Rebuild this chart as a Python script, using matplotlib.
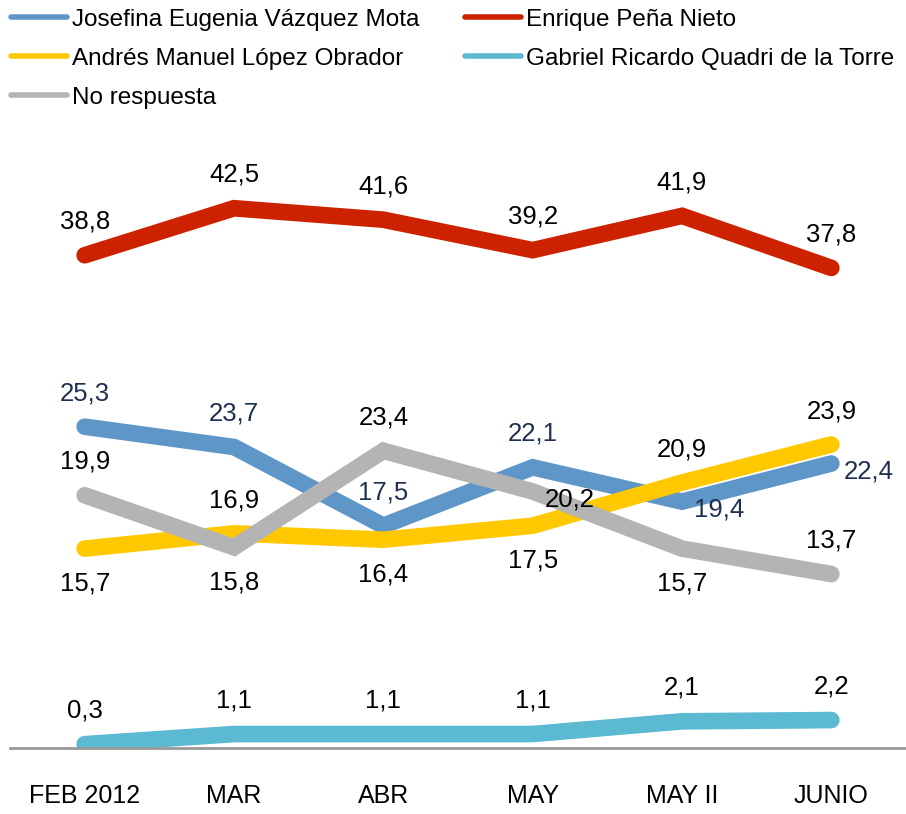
import matplotlib
matplotlib.use("Agg")
import matplotlib.pyplot as plt
from matplotlib.lines import Line2D

plt.rcParams['font.family'] = ['Liberation Sans', 'DejaVu Sans']

months = ['FEB 2012', 'MAR', 'ABR', 'MAY', 'MAY II', 'JUNIO']

josefina = [25.3, 23.7, 17.5, 22.1, 19.4, 22.4]
enrique = [38.8, 42.5, 41.6, 39.2, 41.9, 37.8]
andres = [15.7, 16.9, 16.4, 17.5, 20.9, 23.9]
gabriel = [0.3, 1.1, 1.1, 1.1, 2.1, 2.2]
no_resp = [19.9, 15.8, 23.4, 20.2, 15.7, 13.7]

names = ['Josefina Eugenia Vázquez Mota', 'Enrique Peña Nieto',
         'Andrés Manuel López Obrador', 'Gabriel Ricardo Quadri de la Torre',
         'No respuesta']

# where each data label sits: a = above, b = below, r = right
pos_josefina = ['a', 'a', 'a', 'a', 'r', 'r']
pos_enrique = ['a'] * 6
pos_andres = ['b', 'a', 'b', 'b', 'a', 'a']
pos_gabriel = ['a'] * 6
pos_no_resp = ['a', 'b', 'a', 'r', 'b', 'a']

series = [
    (josefina, '#5F96C8', '#1F3050', pos_josefina),
    (andres, '#FFC800', 'black', pos_andres),
    (no_resp, '#B4B4B4', 'black', pos_no_resp),
    (gabriel, '#5BB9D2', 'black', pos_gabriel),
    (enrique, '#CC2200', 'black', pos_enrique),
]

fig = plt.figure(figsize=(9.06, 8.14), dpi=100)
ax = fig.add_axes([10 / 906, 66 / 814, 896 / 906, 635 / 814])

x = list(range(len(months)))
offsets = {'a': (0, 24), 'b': (0, -25), 'r': (9, -6)}

for vals, col, tcol, pos in series:
    ax.plot(x, vals, color=col, lw=12, solid_capstyle='round',
            solid_joinstyle='miter', zorder=2)
    for xi, v, p in zip(x, vals, pos):
        dx, dy = offsets[p]
        ha = 'left' if p == 'r' else 'center'
        ax.annotate(f'{v:.1f}'.replace('.', ','), (xi, v), xytext=(dx, dy),
                    textcoords='offset points', ha=ha, va='center',
                    fontsize=18.5, color=tcol, annotation_clip=False)

ax.set_xlim(-0.5, 5.5)
ax.set_ylim(0, 50)
ax.set_xticks(x)
ax.set_xticklabels(months, fontsize=18)
ax.tick_params(axis='x', length=0, pad=26)
ax.set_yticks([])
for s in ['top', 'right', 'left']:
    ax.spines[s].set_visible(False)
ax.spines['bottom'].set_color('#999999')
ax.spines['bottom'].set_linewidth(2)
ax.spines['bottom'].set_zorder(3)

colors = {'Josefina Eugenia Vázquez Mota': '#5F96C8',
          'Enrique Peña Nieto': '#CC2200',
          'Andrés Manuel López Obrador': '#FFC800',
          'Gabriel Ricardo Quadri de la Torre': '#5BB9D2',
          'No respuesta': '#B4B4B4'}
order = [names[0], names[2], names[4], names[1], names[3]]
handles = [Line2D([], [], color=colors[n], lw=4, solid_capstyle='round') for n in order]
fig.legend(handles, order, loc='upper left', bbox_to_anchor=(6 / 906, 1 - 4 / 814),
           ncol=2, frameon=False, fontsize=17.5, handlelength=2.3,
           handletextpad=0.2, columnspacing=1.9, labelspacing=0.7,
           borderaxespad=0.0, borderpad=0.2)

fig.savefig('out.png', dpi=100)
